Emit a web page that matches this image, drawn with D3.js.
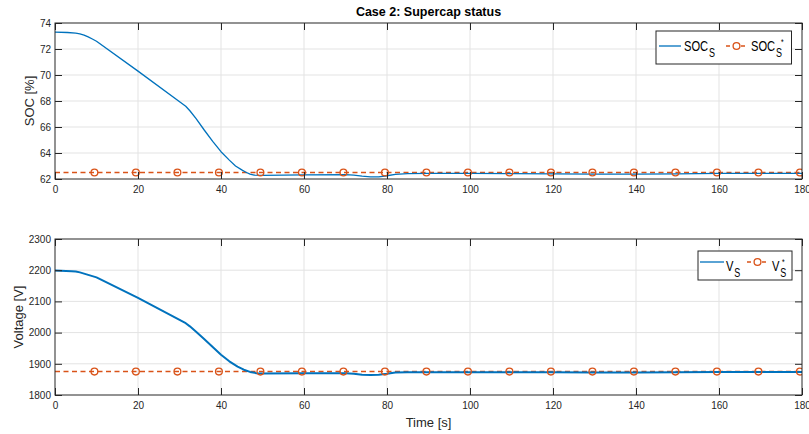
<!DOCTYPE html>
<html>
<head>
<meta charset="utf-8">
<script src="https://cdn.jsdelivr.net/npm/d3@7"></script>
<style>
  html, body { margin: 0; padding: 0; background: #fff; }
  svg { display: block; font-family: "Liberation Sans", Arial, Helvetica, sans-serif; }
</style>
</head>
<body>
<svg id="chart" width="809" height="434"></svg>
<script>
// Simulation time base (s) and measured supercap state of charge (%)
const socTime = [0, 3, 5, 6, 7, 8, 9, 10, 20, 31.5, 32.5, 34, 36, 38, 40, 42, 43.5, 45, 46, 47, 48, 50, 60, 70, 72, 74, 76, 78, 80, 82, 85, 90, 100, 110, 120, 130, 140, 150, 160, 170, 180];
const socValues = [73.3, 73.27, 73.22, 73.17, 73.07, 72.93, 72.77, 72.6, 70.3, 67.6, 67.25, 66.65, 65.75, 64.9, 64.1, 63.45, 63.0, 62.7, 62.52, 62.38, 62.3, 62.28, 62.32, 62.33, 62.3, 62.22, 62.16, 62.17, 62.25, 62.36, 62.41, 62.44, 62.44, 62.42, 62.4, 62.38, 62.38, 62.4, 62.43, 62.43, 62.43];

// Measured supercap voltage (V)
const vTime = [0, 4, 5, 6, 7, 8, 9, 10, 20, 31.5, 32.5, 34, 36, 38, 40, 42, 44, 45.5, 47, 48.5, 50, 60, 70, 72, 74, 76, 78, 80, 82, 85, 90, 100, 110, 120, 130, 140, 150, 160, 170, 180];
const vValues = [2199, 2197, 2196, 2193, 2189, 2185, 2181, 2177, 2111, 2030, 2020, 2003, 1979, 1954, 1929, 1908, 1891, 1881, 1874, 1870, 1869, 1870, 1870, 1868, 1865, 1864, 1865, 1868, 1872, 1873, 1873, 1873, 1873, 1873, 1872, 1872, 1873, 1874, 1874, 1874];

// Reference set-points
const socRef = 62.5;
const vRef = 1875;
const refMarkerTimes = [9.5, 19.5, 29.5, 39.5, 49.5, 59.5, 69.5, 79.5, 89.5, 99.5, 109.5, 119.5, 129.5, 139.5, 149.5, 159.5, 169.5, 179.5];

// Axis ticks
const timeTicks = [0, 20, 40, 60, 80, 100, 120, 140, 160, 180];
const socTicks = [62, 64, 66, 68, 70, 72, 74];
const vTicks = [1800, 1900, 2000, 2100, 2200, 2300];

const BLUE = "#0072BD";
const ORANGE = "#D95319";
const AXIS = "#262626";
const GRID = "#e3e3e3";

const svg = d3.select("#chart");

const x = d3.scaleLinear().domain([0, 180]).range([55, 802]);

function drawPanel(opts) {
  const { y, yTicks, time, values, ref, lineWidth, yLabel, yLabelX, clipId } = opts;
  const [x0, x1] = x.range();
  const [yb, yt] = y.range();
  const g = svg.append("g");

  g.append("clipPath").attr("id", clipId)
    .append("rect").attr("x", x0).attr("y", yt).attr("width", x1 - x0).attr("height", yb - yt);

  // grid
  g.append("g").selectAll("line").data(timeTicks.slice(1, -1)).join("line")
    .attr("x1", d => x(d)).attr("x2", d => x(d)).attr("y1", yt).attr("y2", yb)
    .attr("stroke", GRID).attr("stroke-width", 1);
  g.append("g").selectAll("line").data(yTicks.slice(1, -1)).join("line")
    .attr("x1", x0).attr("x2", x1).attr("y1", d => y(d)).attr("y2", d => y(d))
    .attr("stroke", GRID).attr("stroke-width", 1);

  const plot = g.append("g").attr("clip-path", `url(#${clipId})`);

  // reference (dashed, circle markers)
  plot.append("line")
    .attr("x1", x0).attr("x2", x1).attr("y1", y(ref)).attr("y2", y(ref))
    .attr("stroke", ORANGE).attr("stroke-width", 1.5).attr("stroke-dasharray", "5,3.5");

  // measured state
  const line = d3.line().x((d, i) => x(time[i])).y(d => y(d)).curve(d3.curveLinear);
  plot.append("path").datum(values)
    .attr("d", line).attr("fill", "none")
    .attr("stroke", BLUE).attr("stroke-width", lineWidth)
    .attr("stroke-linejoin", "round");

  plot.append("g").selectAll("circle").data(refMarkerTimes).join("circle")
    .attr("cx", d => x(d)).attr("cy", y(ref)).attr("r", 3.4)
    .attr("fill", "none").attr("stroke", ORANGE).attr("stroke-width", 1.3);

  // axes with inward ticks
  const tl = 7;
  const fmt = d3.format("d");
  const bottom = g.append("g").attr("transform", `translate(0,${yb})`)
    .call(d3.axisBottom(x).tickValues(timeTicks).tickFormat(fmt).tickSize(-tl).tickPadding(7).tickSizeOuter(0));
  const top = g.append("g").attr("transform", `translate(0,${yt})`)
    .call(d3.axisTop(x).tickValues(timeTicks).tickSize(-tl).tickFormat("").tickSizeOuter(0));
  const left = g.append("g").attr("transform", `translate(${x0},0)`)
    .call(d3.axisLeft(y).tickValues(yTicks).tickFormat(fmt).tickSize(-tl).tickPadding(4).tickSizeOuter(0));
  const right = g.append("g").attr("transform", `translate(${x1},0)`)
    .call(d3.axisRight(y).tickValues(yTicks).tickSize(-tl).tickFormat("").tickSizeOuter(0));
  [bottom, top, left, right].forEach(a => {
    a.select(".domain").remove();
    a.selectAll(".tick line").attr("stroke", AXIS).attr("stroke-width", 1);
    a.selectAll(".tick text").attr("fill", AXIS).attr("font-size", 10);
  });

  g.append("rect").attr("x", x0).attr("y", yt).attr("width", x1 - x0).attr("height", yb - yt)
    .attr("fill", "none").attr("stroke", AXIS).attr("stroke-width", 1);

  g.append("text")
    .attr("transform", `translate(${yLabelX},${(yt + yb) / 2}) rotate(-90)`)
    .attr("text-anchor", "middle").attr("font-size", 13).attr("fill", AXIS)
    .text(yLabel);
  return g;
}

const y1 = d3.scaleLinear().domain([62, 74]).range([179, 23]);
const y2 = d3.scaleLinear().domain([1800, 2300]).range([395, 239]);

drawPanel({ y: y1, yTicks: socTicks, time: socTime, values: socValues, ref: socRef,
  lineWidth: 1.3, yLabel: "SOC [%]", yLabelX: 34, clipId: "clipSoc" });
drawPanel({ y: y2, yTicks: vTicks, time: vTime, values: vValues, ref: vRef,
  lineWidth: 2, yLabel: "Voltage [V]", yLabelX: 23, clipId: "clipV" });

// title and x label
svg.append("text").attr("x", 428.5).attr("y", 16).attr("text-anchor", "middle")
  .attr("font-size", 12.5).attr("font-weight", "bold").attr("fill", "#000")
  .text("Case 2: Supercap status");
svg.append("text").attr("x", 428.5).attr("y", 427).attr("text-anchor", "middle")
  .attr("font-size", 13).attr("fill", AXIS).text("Time [s]");

// legends: label text is horizontally condensed, with subscript S and optional star
const SX = 0.72;
function legend(box, items) {
  const g = svg.append("g");
  g.append("rect").attr("x", box.x).attr("y", box.y).attr("width", box.w).attr("height", box.h)
    .attr("fill", "#fff").attr("stroke", AXIS).attr("stroke-width", 1);
  items.forEach(it => {
    if (it.kind === "solid") {
      g.append("line").attr("x1", it.lx0).attr("x2", it.lx1).attr("y1", it.ly).attr("y2", it.ly)
        .attr("stroke", BLUE).attr("stroke-width", 1.3);
    } else {
      g.append("line").attr("x1", it.lx0).attr("x2", it.lx1).attr("y1", it.ly).attr("y2", it.ly)
        .attr("stroke", ORANGE).attr("stroke-width", 1.5).attr("stroke-dasharray", "4,3.5");
      g.append("circle").attr("cx", (it.lx0 + it.lx1) / 2).attr("cy", it.ly).attr("r", 3.4)
        .attr("fill", "#fff").attr("stroke", ORANGE).attr("stroke-width", 1.3);
    }
    const t = g.append("text")
      .attr("transform", `translate(${it.tx},${it.ty}) scale(${SX},1)`)
      .attr("font-size", 15.5).attr("fill", "#000");
    t.append("tspan").text(it.main);
    t.append("tspan").attr("font-size", 12.5).attr("dx", 1).attr("dy", 5.5).text("S");
    if (it.star) {
      t.append("tspan").attr("x", it.starX / SX).attr("y", -6.5).attr("font-size", 9.5).text("*");
    }
  });
}

legend({ x: 656, y: 31, w: 135.5, h: 33 }, [
  { kind: "solid", lx0: 659, lx1: 681, ly: 46, tx: 684, ty: 51, main: "SOC" },
  { kind: "dash", lx0: 726, lx1: 747, ly: 46, tx: 751, ty: 51, main: "SOC", star: true, starX: 30 }
]);
legend({ x: 698, y: 251, w: 94, h: 29 }, [
  { kind: "solid", lx0: 700, lx1: 724, ly: 262, tx: 726, ty: 271, main: "V" },
  { kind: "dash", lx0: 747, lx1: 768, ly: 262, tx: 772, ty: 271, main: "V", star: true, starX: 10 }
]);
</script>
</body>
</html>
